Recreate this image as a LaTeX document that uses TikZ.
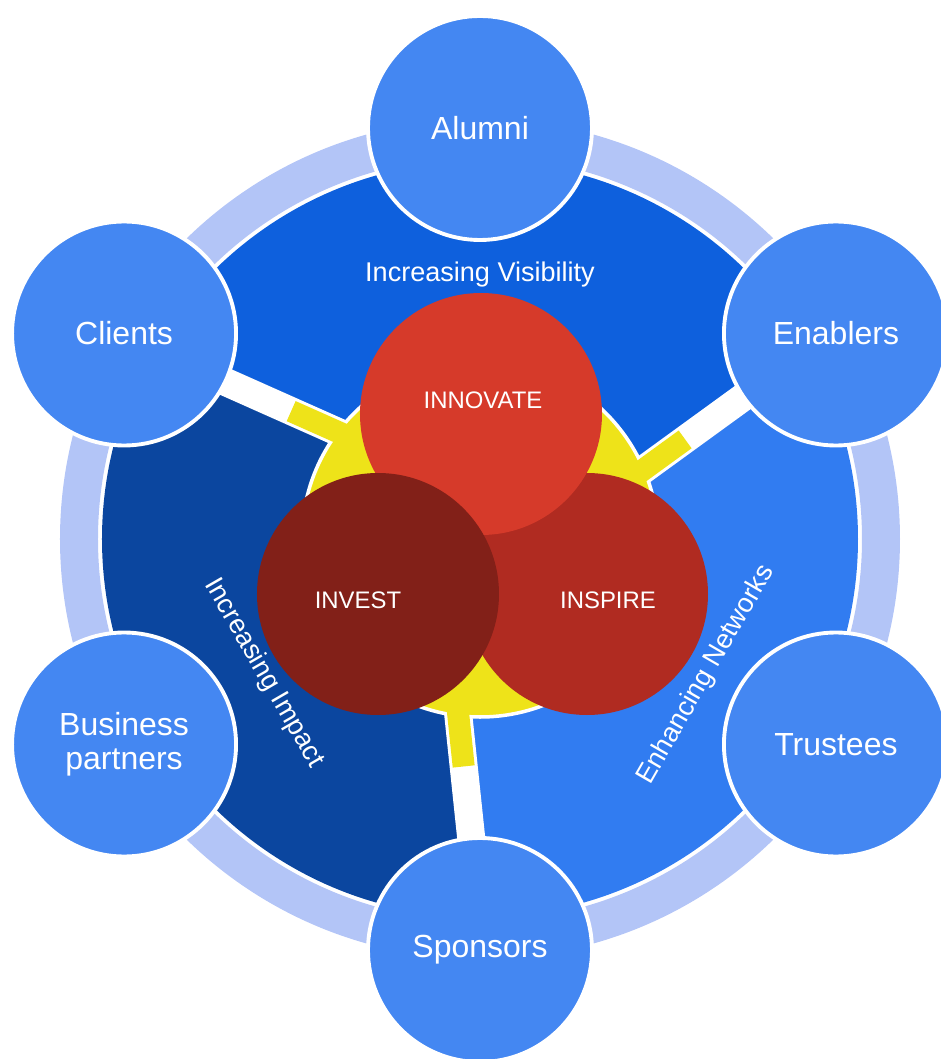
\documentclass[tikz,border=0pt]{standalone}
\usepackage{fontspec}
\setmainfont{Liberation Sans}
\usetikzlibrary{calc}

\definecolor{orbitblue}{HTML}{4487F2}
\definecolor{ringblue}{HTML}{B3C5F7}
\definecolor{visblue}{HTML}{0E60DD}
\definecolor{impblue}{HTML}{0B469F}
\definecolor{netblue}{HTML}{317CF1}
\definecolor{coreyellow}{HTML}{EEE319}
\definecolor{innored}{HTML}{D63A2A}
\definecolor{insred}{HTML}{B02B21}
\definecolor{invred}{HTML}{822018}

\tikzstyle{member}=[circle, fill=orbitblue, draw=white, line width=1.1pt, minimum size=2.24cm, inner sep=0pt, text=white, align=center, font=\fontsize{9.1}{9.7}\selectfont]
\tikzstyle{pillar}=[circle, minimum size=2.42cm, inner sep=0pt]
\tikzstyle{pillartext}=[text=white, font=\fontsize{6.8}{8}\selectfont]
\tikzstyle{theme}=[text=white, font=\fontsize{7.7}{9}\selectfont]
\tikzstyle{gap}=[white, line width=0.28cm]
\tikzstyle{spoke}=[coreyellow, line width=0.22cm]

\begin{document}
\begin{tikzpicture}
  \useasboundingbox (-4.80,-5.20) rectangle (4.61,5.39);
  % pale ring behind everything
  \draw[ringblue, line width=0.38cm] (0,0) circle (4.01);
  % the three sectors
  \begin{scope}
    \clip (0,0) circle (3.78);
    \foreach \a/\col in {0/visblue, 120/impblue, 240/netblue} {
      \fill[\col] (\a+6:0.8) -- (\a+32.2:6) -- (\a+90:8) -- (\a+152.2:6) -- cycle;
    }
  \end{scope}
  % gaps, yellow core and its spokes
  \foreach \a in {0, 120, 240}
    \draw[gap] (\a+66:0.4) -- ++(\a+156:4);
  \filldraw[fill=coreyellow, draw=white, line width=1pt] (0,0) circle (1.78);
  \foreach \a in {0, 120, 240}
    \draw[spoke] (\a+66:0.4) ++(\a+156:1.2) -- ++(\a+156:1.045);

  \node[theme] (visibility) at (0,2.645) {Increasing Visibility};
  \node[theme, rotate=-60] (impact) at (-2.16,-1.34) {Increasing Impact};
  \node[theme, rotate=60] (networks) at (2.26,-1.36) {Enhancing Networks};

  % the three I's
  \node[pillar, fill=insred] (inspire) at (1.07,-0.55) {};
  \node[pillar, fill=innored] (innovate) at (0.01,1.25) {};
  \node[pillar, fill=invred] (invest) at (-1.02,-0.55) {};
  \node[pillartext] (innovatelabel) at (0.03,1.39) {INNOVATE};
  \node[pillartext] (investlabel) at (-1.22,-0.61) {INVEST};
  \node[pillartext] (inspirelabel) at (1.28,-0.61) {INSPIRE};

  % stakeholders around the ring
  \foreach \ang/\name/\txt in {90/alumni/Alumni, 30/enablers/Enablers,
      -30/trustees/Trustees, -90/sponsors/Sponsors,
      -150/partners/{Business\\partners}, 150/clients/Clients} {
    \node[member] (\name) at (\ang:4.11) {\txt};
  }
\end{tikzpicture}
\end{document}
